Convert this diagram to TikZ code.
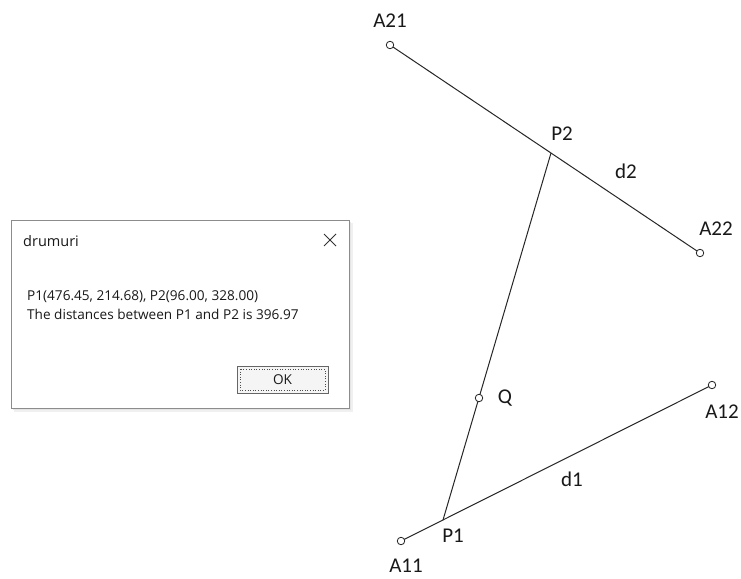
\documentclass[tikz,border=0pt]{standalone}
\usepackage{fontspec}
\setmainfont{Carlito}
\newfontfamily\uifont{Open Sans}
\begin{document}
\begin{tikzpicture}[x=1pt,y=-1pt,
  seg/.style={draw=black!85, line width=1pt},
  pt/.style={circle, draw=black!85, fill=white, line width=0.8pt, inner sep=0pt, minimum size=7.5pt},
  lbl/.style={font=\fontsize{21}{24}\selectfont, text=black!90, inner sep=0pt},
  ui/.style={font=\uifont\fontsize{13.6}{16}\selectfont, text=black!90, inner sep=0pt, anchor=west}]
\useasboundingbox[fill=white] (0,0) rectangle (741,578);
% geometry
\coordinate (a21) at (390,45);
\coordinate (a22) at (700,253);
\coordinate (a11) at (401,541);
\coordinate (a12) at (712,385);
\coordinate (p1) at (443,520);
\coordinate (p2) at (551,153);
\coordinate (q) at (479,398);
\draw[seg] (a21) -- (a22);
\draw[seg] (a11) -- (a12);
\draw[seg] (p1) -- (p2);
\node[pt] (A21) at (a21) {};
\node[pt] (A22) at (a22) {};
\node[pt] (A11) at (a11) {};
\node[pt] (A12) at (a12) {};
\node[pt] (Q) at (q) {};
\node[lbl] (lA21) at (390,21) {A21};
\node[lbl] (lA22) at (716,229) {A22};
\node[lbl] (lA11) at (406,566) {A11};
\node[lbl] (lA12) at (722,412) {A12};
\node[lbl] (lP1) at (453,536) {P1};
\node[lbl] (lP2) at (562,134) {P2};
\node[lbl] (lQ) at (505,398) {Q};
\node[lbl] (ld1) at (572,479) {d1};
\node[lbl] (ld2) at (626,171) {d2};
% dialog
\fill[black!6] (14,223) rectangle (353,412);
\fill[black!10] (13,222) rectangle (351,410);
\draw[fill=white, draw=black!45, line width=0.8pt] (11,220) rectangle (349,408);
\node[ui, font=\uifont\fontsize{14.5}{16}\selectfont] (title) at (23,241) {drumuri};
\draw[black!80, line width=0.9pt] (324,234) -- (336,246) (336,234) -- (324,246);
\node[ui] (m1) at (27,297) {P1(476.45, 214.68), P2(96.00, 328.00)};
\node[ui] (m2) at (27,314) {The distances between P1 and P2 is 396.97};
\draw[fill=black!4, draw=black!60, line width=0.8pt] (237,366) rectangle (328,393);
\draw[black!70, dotted, line width=0.6pt] (240,369) rectangle (325,390);
\node[ui] (ok) at (282.5,380) [anchor=center] {OK};
\end{tikzpicture}
\end{document}
